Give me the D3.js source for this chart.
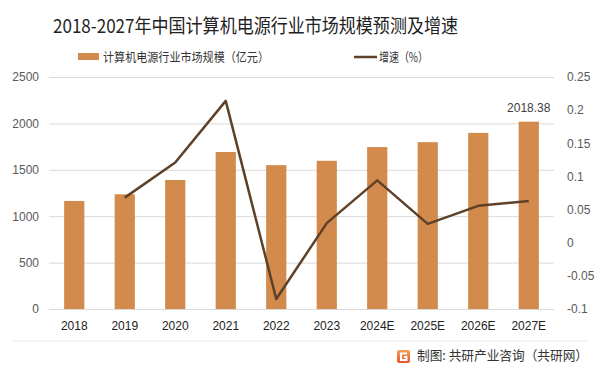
<!DOCTYPE html>
<html>
<head>
<meta charset="utf-8">
<script src="https://cdn.jsdelivr.net/npm/d3@7"></script>
<style>
  body { margin: 0; background: #fff; }
  svg { display: block; font-family: "Noto Sans CJK SC", "Noto Sans", sans-serif; }
</style>
</head>
<body>
<svg id="chart" width="601" height="372"></svg>
<script>
var years = ["2018", "2019", "2020", "2021", "2022", "2023", "2024E", "2025E", "2026E", "2027E"];
var scale = [1164, 1236, 1390, 1692, 1550, 1597, 1745, 1798, 1898, 2018.38];
var growth = [null, 0.068, 0.121, 0.214, -0.085, 0.0295, 0.094, 0.0285, 0.0556, 0.063];
var leftTicks = [0, 500, 1000, 1500, 2000, 2500];
var rightTicks = [-0.1, -0.05, 0, 0.05, 0.1, 0.15, 0.2, 0.25];

var barColor = "#D38B4D";
var lineColor = "#5E4128";

var svg = d3.select("#chart");

var margin = { left: 49, right: 47, top: 77, bottom: 63 };
var width = 601 - margin.left - margin.right;
var height = 372 - margin.top - margin.bottom;

var x = d3.scaleBand().domain(years).range([0, width]).paddingInner(0.6).paddingOuter(0.3);
var y = d3.scaleLinear().domain([0, 2500]).range([height, 0]);
var y2 = d3.scaleLinear().domain([-0.1, 0.25]).range([height, 0]);

var chart = svg.append("g").attr("transform", "translate(" + margin.left + "," + margin.top + ")");

// gridlines
chart.append("g")
    .call(d3.axisLeft(y).tickValues(leftTicks).tickSize(-width).tickFormat(""))
    .call(function(g) { g.select(".domain").remove(); })
    .selectAll("line").attr("stroke", "#d9d9d9");

// left axis labels
chart.append("g")
    .call(d3.axisLeft(y).tickValues(leftTicks).tickSize(0).tickPadding(10).tickFormat(d3.format("d")))
    .call(function(g) { g.select(".domain").remove(); })
    .selectAll("text").attr("font-size", 12).attr("fill", "#595959")
    .attr("font-family", "Liberation Sans, sans-serif");

// right axis labels
chart.append("g")
    .attr("transform", "translate(" + width + ",0)")
    .call(d3.axisRight(y2).tickValues(rightTicks).tickSize(0).tickPadding(13)
        .tickFormat(function(d) { return String(+d.toFixed(2)); }))
    .call(function(g) { g.select(".domain").remove(); })
    .selectAll("text").attr("font-size", 12).attr("fill", "#595959")
    .attr("font-family", "Liberation Sans, sans-serif");

// x axis
chart.append("g")
    .attr("transform", "translate(0," + height + ")")
    .call(d3.axisBottom(x).tickSize(0).tickPadding(12))
    .call(function(g) { g.select(".domain").attr("stroke", "#d9d9d9"); })
    .selectAll("text").attr("font-size", 12).attr("fill", "#222")
    .attr("font-family", "Liberation Sans, sans-serif");

// bars
chart.selectAll(".bar")
    .data(scale)
    .enter().append("rect")
    .attr("class", "bar")
    .attr("x", function(d, i) { return x(years[i]); })
    .attr("y", function(d) { return y(d); })
    .attr("width", x.bandwidth())
    .attr("height", function(d) { return height - y(d); })
    .attr("fill", barColor);

// last value label
chart.append("text")
    .attr("x", x(years[9]) + x.bandwidth() / 2)
    .attr("y", y(scale[9]) - 10)
    .attr("text-anchor", "middle")
    .attr("font-size", 12)
    .attr("fill", "#404040")
    .attr("font-family", "Liberation Sans, sans-serif")
    .text(scale[9]);

// growth line
var line = d3.line()
    .defined(function(d) { return d !== null; })
    .x(function(d, i) { return x(years[i]) + x.bandwidth() / 2; })
    .y(function(d) { return y2(d); });

chart.append("path")
    .datum(growth)
    .attr("fill", "none")
    .attr("stroke", lineColor)
    .attr("stroke-width", 2.5)
    .attr("stroke-linejoin", "round")
    .attr("d", line);

// title
svg.append("text")
    .attr("x", 53)
    .attr("y", 33)
    .attr("font-size", 19)
    .attr("textLength", 405)
    .attr("lengthAdjust", "spacingAndGlyphs")
    .attr("fill", "#222")
    .text("2018-2027年中国计算机电源行业市场规模预测及增速");

// legend
svg.append("rect").attr("x", 78).attr("y", 53).attr("width", 21).attr("height", 7).attr("fill", barColor);
svg.append("text").attr("x", 103).attr("y", 62).attr("font-size", 12.5).attr("fill", "#333")
    .attr("textLength", 166).attr("lengthAdjust", "spacingAndGlyphs")
    .text("计算机电源行业市场规模（亿元）");
svg.append("line").attr("x1", 354).attr("x2", 377).attr("y1", 57).attr("y2", 57)
    .attr("stroke", lineColor).attr("stroke-width", 2.5);
svg.append("text").attr("x", 379).attr("y", 62).attr("font-size", 12.5).attr("fill", "#333")
    .attr("textLength", 49).attr("lengthAdjust", "spacingAndGlyphs")
    .text("增速（%）");

// footer
svg.append("line").attr("x1", 13).attr("x2", 587).attr("y1", 341).attr("y2", 341)
    .attr("stroke", "#ebebeb");
var logo = svg.append("g").attr("transform", "translate(397,350)");
var grad = svg.append("defs").append("linearGradient").attr("id", "lg")
    .attr("x1", 0).attr("y1", 0).attr("x2", 0).attr("y2", 1);
grad.append("stop").attr("offset", 0).attr("stop-color", "#F6A25A");
grad.append("stop").attr("offset", 1).attr("stop-color", "#E8542B");
logo.append("rect").attr("width", 13).attr("height", 13).attr("rx", 2).attr("fill", "url(#lg)");
logo.append("path").attr("d", "M10 3.5 H4 V10 H9.5 V7 H7").attr("fill", "none").attr("stroke", "#fff").attr("stroke-width", 2);
svg.append("text").attr("x", 417).attr("y", 360).attr("font-size", 13).attr("fill", "#333")
    .attr("textLength", 171).attr("lengthAdjust", "spacingAndGlyphs")
    .text("制图: 共研产业咨询（共研网）");
</script>
</body>
</html>
